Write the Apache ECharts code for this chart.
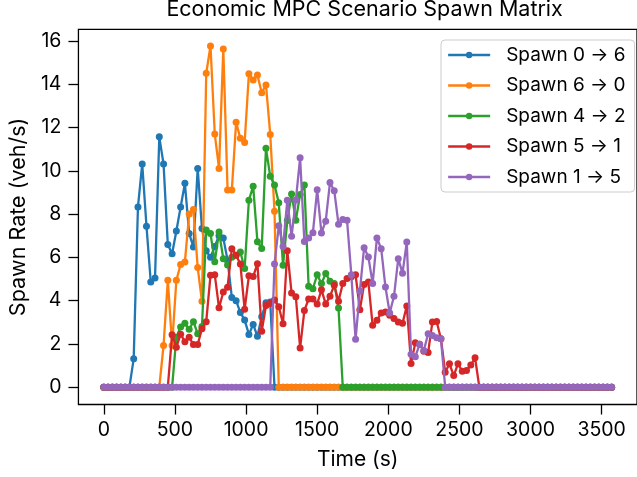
<!DOCTYPE html>
<html><head><meta charset="utf-8">
<script src="https://cdn.jsdelivr.net/npm/echarts@6/dist/echarts.min.js"></script>
<style>html,body{margin:0;padding:0;background:#fff}#c{width:637px;height:477px}</style>
</head><body><div id="c"></div>
<script>
const times = [
  0, 30, 60, 90, 120, 150, 180, 210, 240, 270,
  300, 330, 360, 390, 420, 450, 480, 510, 540, 570,
  600, 630, 660, 690, 720, 750, 780, 810, 840, 870,
  900, 930, 960, 990, 1020, 1050, 1080, 1110, 1140, 1170,
  1200, 1230, 1260, 1290, 1320, 1350, 1380, 1410, 1440, 1470,
  1500, 1530, 1560, 1590, 1620, 1650, 1680, 1710, 1740, 1770,
  1800, 1830, 1860, 1890, 1920, 1950, 1980, 2010, 2040, 2070,
  2100, 2130, 2160, 2190, 2220, 2250, 2280, 2310, 2340, 2370,
  2400, 2430, 2460, 2490, 2520, 2550, 2580, 2610, 2640, 2670,
  2700, 2730, 2760, 2790, 2820, 2850, 2880, 2910, 2940, 2970,
  3000, 3030, 3060, 3090, 3120, 3150, 3180, 3210, 3240, 3270,
  3300, 3330, 3360, 3390, 3420, 3450, 3480, 3510, 3540, 3570
];
const seriesNames = ['Spawn 0 \u2192 6', 'Spawn 6 \u2192 0', 'Spawn 4 \u2192 2', 'Spawn 5 \u2192 1', 'Spawn 1 \u2192 5'];
const spawn0to6 = [
  0, 0, 0, 0, 0, 0, 0, 1.31, 8.33, 10.31,
  7.44, 4.86, 5.05, 11.57, 10.31, 6.59, 6.17, 7.22, 8.33, 9.42,
  7.1, 6.48, 10.11, 7.33, 6.3, 6.0, 6.5, 7.0, 6.9, 5.87,
  4.15, 4.0, 3.45, 3.1, 2.44, 2.9, 2.35, 3.26, 3.9, 3.94,
  0, 0, 0, 0, 0, 0, 0, 0, 0, 0,
  0, 0, 0, 0, 0, 0, 0, 0, 0, 0,
  0, 0, 0, 0, 0, 0, 0, 0, 0, 0,
  0, 0, 0, 0, 0, 0, 0, 0, 0, 0,
  0, 0, 0, 0, 0, 0, 0, 0, 0, 0,
  0, 0, 0, 0, 0, 0, 0, 0, 0, 0,
  0, 0, 0, 0, 0, 0, 0, 0, 0, 0,
  0, 0, 0, 0, 0, 0, 0, 0, 0, 0
];
const spawn6to0 = [
  0, 0, 0, 0, 0, 0, 0, 0, 0, 0,
  0, 0, 0, 0, 1.93, 4.94, 1.93, 4.94, 5.67, 5.79,
  8.0, 8.21, 5.53, 3.97, 14.51, 15.77, 11.7, 10.11, 15.63, 9.11,
  9.11, 12.24, 11.5, 11.31, 14.48, 14.2, 14.43, 13.61, 13.97, 11.68,
  8.13, 0, 0, 0, 0, 0, 0, 0, 0, 0,
  0, 0, 0, 0, 0, 0, 0, 0, 0, 0,
  0, 0, 0, 0, 0, 0, 0, 0, 0, 0,
  0, 0, 0, 0, 0, 0, 0, 0, 0, 0,
  0, 0, 0, 0, 0, 0, 0, 0, 0, 0,
  0, 0, 0, 0, 0, 0, 0, 0, 0, 0,
  0, 0, 0, 0, 0, 0, 0, 0, 0, 0,
  0, 0, 0, 0, 0, 0, 0, 0, 0, 0
];
const spawn4to2 = [
  0, 0, 0, 0, 0, 0, 0, 0, 0, 0,
  0, 0, 0, 0, 0, 0, 0, 2.31, 2.78, 2.95,
  2.68, 3.03, 2.47, 2.8, 7.27, 7.1, 5.8, 7.17, 5.94, 5.65,
  6.0, 6.1, 6.25, 5.48, 8.64, 9.29, 6.72, 6.41, 11.04, 9.75,
  9.34, 8.52, 5.63, 7.7, 8.93, 7.72, 8.9, 9.34, 4.66, 4.55,
  5.2, 4.79, 5.25, 4.9, 4.79, 3.66, 0, 0, 0, 0,
  0, 0, 0, 0, 0, 0, 0, 0, 0, 0,
  0, 0, 0, 0, 0, 0, 0, 0, 0, 0,
  0, 0, 0, 0, 0, 0, 0, 0, 0, 0,
  0, 0, 0, 0, 0, 0, 0, 0, 0, 0,
  0, 0, 0, 0, 0, 0, 0, 0, 0, 0,
  0, 0, 0, 0, 0, 0, 0, 0, 0, 0
];
const spawn5to1 = [
  0, 0, 0, 0, 0, 0, 0, 0, 0, 0,
  0, 0, 0, 0, 0, 0, 2.42, 1.85, 2.45, 2.1,
  2.31, 1.97, 1.97, 2.7, 3.03, 5.17, 5.2, 3.67, 4.4, 4.62,
  6.4, 6.1, 5.69, 3.6, 5.15, 5.11, 5.71, 2.58, 3.77, 3.87,
  4.03, 3.72, 2.93, 6.31, 4.35, 4.18, 1.81, 3.55, 4.07, 4.07,
  3.85, 4.5, 3.85, 4.2, 4.71, 3.97, 4.79, 5.02, 5.1, 5.2,
  3.58, 4.75, 4.86, 2.86, 3.09, 3.43, 3.47, 3.32, 3.17, 3.01,
  2.95, 3.75, 1.1, 2.05, 1.98, 1.66, 1.6, 3.01, 3.04, 2.24,
  0.69, 1.08, 0.54, 1.08, 0.74, 0.77, 1.02, 1.36, 0, 0,
  0, 0, 0, 0, 0, 0, 0, 0, 0, 0,
  0, 0, 0, 0, 0, 0, 0, 0, 0, 0,
  0, 0, 0, 0, 0, 0, 0, 0, 0, 0
];
const spawn1to5 = [
  0, 0, 0, 0, 0, 0, 0, 0, 0, 0,
  0, 0, 0, 0, 0, 0, 0, 0, 0, 0,
  0, 0, 0, 0, 0, 0, 0, 0, 0, 0,
  0, 0, 0, 0, 0, 0, 0, 0, 0, 0,
  5.69, 7.46, 6.5, 8.64, 6.98, 8.65, 10.6, 6.73, 6.9, 7.14,
  9.12, 7.13, 7.67, 9.46, 9.08, 7.53, 7.75, 7.72, 5.2, 2.21,
  4.44, 6.45, 6.02, 4.79, 6.9, 6.4, 4.63, 3.43, 4.2, 5.94,
  5.27, 6.71, 1.52, 1.41, 1.98, 1.7, 2.47, 2.39, 2.28, 2.24,
  0, 0, 0, 0, 0, 0, 0, 0, 0, 0,
  0, 0, 0, 0, 0, 0, 0, 0, 0, 0,
  0, 0, 0, 0, 0, 0, 0, 0, 0, 0,
  0, 0, 0, 0, 0, 0, 0, 0, 0, 0
];
const xTicks = [0, 500, 1000, 1500, 2000, 2500, 3000, 3500];
const yTicks = [0, 2, 4, 6, 8, 10, 12, 14, 16];

const colors = ['#1f77b4', '#ff7f0e', '#2ca02c', '#d62728', '#9467bd'];
const allValues = [spawn0to6, spawn6to0, spawn4to2, spawn5to1, spawn1to5];
const FONT = 'Inter';

const chart = echarts.init(document.getElementById('c'), null, {renderer: 'canvas'});
chart.setOption({
  animation: false,
  backgroundColor: '#fff',
  title: {
    text: 'Economic MPC Scenario Spawn Matrix',
    left: 359.6, textAlign: 'center', top: -6,
    textStyle: {fontFamily: FONT, fontSize: 21.5, fontWeight: 'normal', color: '#000'}
  },
  legend: {
    orient: 'vertical', left: 441, top: 40,
    padding: [5, 9, 5, 6],
    itemWidth: 42, itemHeight: 8, itemGap: 10.5,
    borderColor: '#cccccc', borderWidth: 1, borderRadius: 4,
    backgroundColor: 'rgba(255,255,255,0.8)',
    lineStyle: {width: 2.3},
    textStyle: {fontFamily: FONT, fontSize: 19, color: '#000', lineHeight: 20, padding: [0, 0, 0, 11]},
    data: seriesNames
  },
  grid: {
    left: 77.2, top: 29.3, width: 565, height: 375.2,
    show: true, borderColor: '#000', borderWidth: 1.3, backgroundColor: 'transparent'
  },
  xAxis: {
    type: 'value', min: -178.5, max: 3748.5,
    name: 'Time (s)', nameLocation: 'middle', nameGap: 45,
    nameTextStyle: {fontFamily: FONT, fontSize: 21, color: '#000'},
    axisLine: {show: false, onZero: false},
    splitLine: {show: false},
    axisTick: {show: true, inside: false, customValues: xTicks, length: 10, lineStyle: {color: '#000', width: 1.3}},
    axisLabel: {customValues: xTicks, margin: 16, fontFamily: FONT, fontSize: 19.5, color: '#000', formatter: v => String(v)}
  },
  yAxis: {
    type: 'value', min: -0.8, max: 16.54,
    name: 'Spawn Rate (veh/s)', nameLocation: 'middle', nameGap: 48, nameRotate: 90,
    nameTextStyle: {fontFamily: FONT, fontSize: 21.5, color: '#000'},
    axisLine: {show: false, onZero: false},
    splitLine: {show: false},
    axisTick: {show: true, inside: false, customValues: yTicks, length: 10, lineStyle: {color: '#000', width: 1.3}},
    axisLabel: {customValues: yTicks, margin: 17, fontFamily: FONT, fontSize: 19.5, color: '#000', formatter: v => String(v)}
  },
  series: seriesNames.map((name, k) => ({
    name: name,
    type: 'line',
    data: times.map((t, i) => [t, allValues[k][i]]),
    color: colors[k],
    symbol: 'circle', symbolSize: 7, showSymbol: true, showAllSymbol: true,
    lineStyle: {width: 2.3, color: colors[k]},
    itemStyle: {color: colors[k]},
    z: 2 + k,
    emphasis: {disabled: true}
  }))
});
</script></body></html>
